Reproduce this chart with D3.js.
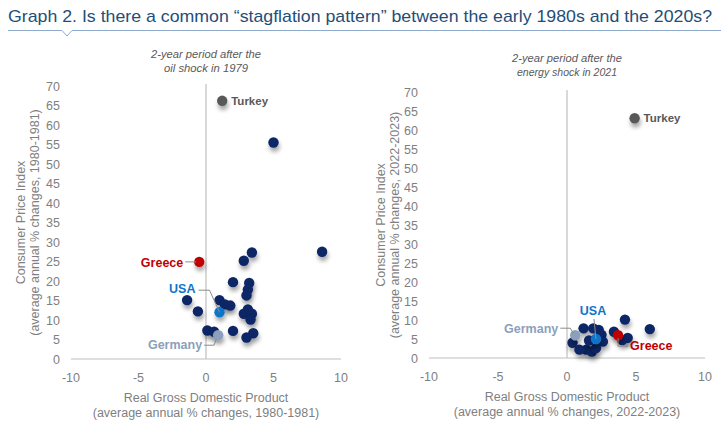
<!DOCTYPE html>
<html lang="en">
<head>
    <meta charset="UTF-8">
    <title>Stagflation pattern</title>

    <script src="https://d3js.org/d3.v7.min.js"></script>

    <style>
        body {
            margin: 0;
            background: #ffffff;
            font-family: "Liberation Sans", Arial, sans-serif;
        }
        svg text {
            font-family: "Liberation Sans", Arial, sans-serif;
        }
    </style>

    <script>

        // tick values shared by both panels
        const X_TICKS = [-10, -5, 0, 5, 10];
        const Y_TICKS = [0, 5, 10, 15, 20, 25, 30, 35, 40, 45, 50, 55, 60, 65, 70];

        // 1980-1981: other countries
        const GDP_1980 = [5.0, 8.6, 3.4, 2.8, 2.0, 3.2, 3.1, 3.0, -1.4, 1.0, 1.4, 1.8, -0.6, 3.1, 2.8, 3.4, 3.3, 0.1, 0.6, 2.0, 3.5, 3.0];
        const CPI_1980 = [55.5, 27.5, 27.3, 25.2, 19.7, 19.5, 17.8, 16.3, 15.1, 15.1, 14.0, 13.7, 12.2, 12.7, 11.6, 11.6, 10.1, 7.3, 7.0, 7.2, 6.6, 5.5];

        // 2022-2023: other countries
        const GDP_2022 = [4.2, 6.0, 1.2, 1.9, 2.3, 2.5, 0.4, 1.4, 1.8, 2.6, 2.1, 0.9, 3.4, 4.4, 4.0, 1.6];
        const CPI_2022 = [10.1, 7.6, 7.8, 7.8, 7.4, 6.1, 4.0, 2.2, 1.7, 4.3, 2.6, 2.2, 6.9, 5.3, 4.7, 4.6];

        // highlighted countries
        const COUNTRIES = ["Turkey", "Greece", "USA", "Germany"];
        const HL_GDP_1980 = [1.2, -0.5, 1.0, 0.9];
        const HL_CPI_1980 = [66.2, 24.9, 12.0, 6.1];
        const HL_GDP_2022 = [4.9, 3.7, 2.1, 0.6];
        const HL_CPI_2022 = [63.1, 6.0, 5.0, 6.0];

        const COLORS = {Turkey: "#595959", Greece: "#c00000", USA: "#0f75c9", Germany: "#8c9fbd"};
        const NAVY = "#0b2566";
        const AXIS_GREY = "#7f7f7f";

        document.addEventListener("DOMContentLoaded", () => makeGraph());

        function makeGraph() {
            const svg = d3.select("svg")
                .attr("width", 721)
                .attr("height", 447);

            const defs = svg.append("defs");
            defs.append("filter")
                .attr("id", "shadow")
                .attr("x", "-50%").attr("y", "-50%")
                .attr("width", "200%").attr("height", "220%")
                .append("feDropShadow")
                .attr("dx", 1)
                .attr("dy", 4)
                .attr("stdDeviation", 2)
                .attr("flood-color", "#000")
                .attr("flood-opacity", 0.35);

            // title
            svg.append("text")
                .attr("x", 8)
                .attr("y", 22)
                .attr("fill", "#1f4e79")
                .attr("font-size", 17)
                .attr("textLength", 704)
                .attr("lengthAdjust", "spacingAndGlyphs")
                .text("Graph 2. Is there a common \u201cstagflation pattern\u201d between the early 1980s and the 2020s?");

            svg.append("path")
                .attr("d", "M8,30.5 H62 L67,36 L72,30.5 H721")
                .attr("fill", "none")
                .attr("stroke", "#8eaacb")
                .attr("stroke-width", 1);

            drawPanel(svg, {
                xRange: [71, 341], yRange: [359, 86],
                gdp: GDP_1980, cpi: CPI_1980,
                hlGdp: HL_GDP_1980, hlCpi: HL_CPI_1980,
                note: ["2-year period after the", "oil shock in 1979"], noteY: 58,
                period: "1980-1981",
                yTitleX: 21,
                labels: {
                    Turkey: {dx: 9, dy: 4, anchor: "start", path: null},
                    Greece: {dx: -16, dy: 5, anchor: "end", path: [[-3, 0], [-14, 0]]},
                    USA: {dx: -24, dy: -19, anchor: "end", path: [[0, 0], [-10, -22], [-21, -22]]},
                    Germany: {dx: -16, dy: 14, anchor: "end", path: [[-2, 4], [-4, 10], [-14, 10]]}
                }
            });

            drawPanel(svg, {
                xRange: [429, 705], yRange: [358, 92],
                gdp: GDP_2022, cpi: CPI_2022,
                hlGdp: HL_GDP_2022, hlCpi: HL_CPI_2022,
                note: ["2-year period after the", "energy shock in 2021"], noteY: 62,
                period: "2022-2023",
                yTitleX: 381,
                labels: {
                    Turkey: {dx: 9, dy: 4, anchor: "start", path: null},
                    Greece: {dx: 12, dy: 15, anchor: "start", path: [[0, 3], [0, 11], [10, 11]]},
                    USA: {dx: -3, dy: -24, anchor: "middle", path: [[0, 0], [-2, -20]]},
                    Germany: {dx: -17, dy: -2, anchor: "end", path: [[-2, -2], [-5, -7], [-15, -7]]}
                }
            });
        }

        function drawPanel(svg, cfg) {
            const x = d3.scaleLinear().domain([-10, 10]).range(cfg.xRange);
            const y = d3.scaleLinear().domain([0, 70]).range(cfg.yRange);
            const g = svg.append("g");

            // y tick labels
            g.selectAll(".ytick")
                .data(Y_TICKS)
                .join("text")
                .attr("x", x(-10) - 11)
                .attr("y", d => y(d) + 4.5)
                .attr("text-anchor", "end")
                .attr("fill", AXIS_GREY)
                .attr("font-size", 12.5)
                .text(d => d);

            // x tick labels
            g.selectAll(".xtick")
                .data(X_TICKS)
                .join("text")
                .attr("x", d => x(d))
                .attr("y", y(0) + 23)
                .attr("text-anchor", "middle")
                .attr("fill", AXIS_GREY)
                .attr("font-size", 12.5)
                .text(d => d);

            // axis lines
            g.append("line")
                .attr("x1", x(-10)).attr("x2", x(10))
                .attr("y1", y(0)).attr("y2", y(0))
                .attr("stroke", "#bfbfbf").attr("stroke-width", 1.2);
            g.append("line")
                .attr("x1", x(0)).attr("x2", x(0))
                .attr("y1", y(70) - 2).attr("y2", y(0))
                .attr("stroke", "#bfbfbf").attr("stroke-width", 1.2);

            // axis titles
            const cx = x(0);
            g.append("text")
                .attr("x", cx).attr("y", y(0) + 43)
                .attr("text-anchor", "middle")
                .attr("fill", AXIS_GREY).attr("font-size", 12.5)
                .text("Real Gross Domestic Product");
            g.append("text")
                .attr("x", cx).attr("y", y(0) + 58)
                .attr("text-anchor", "middle")
                .attr("fill", AXIS_GREY).attr("font-size", 12.5)
                .text("(average annual % changes, " + cfg.period + ")");

            const cy = (y(0) + y(70)) / 2;
            g.append("text")
                .attr("transform", "translate(" + (cfg.yTitleX + 4) + "," + cy + ") rotate(-90)")
                .attr("text-anchor", "middle")
                .attr("fill", AXIS_GREY).attr("font-size", 12.5)
                .text("Consumer  Price Index");
            g.append("text")
                .attr("transform", "translate(" + (cfg.yTitleX + 18) + "," + cy + ") rotate(-90)")
                .attr("text-anchor", "middle")
                .attr("fill", AXIS_GREY).attr("font-size", 12.5)
                .text("(average annual % changes, " + cfg.period + ")");

            // italic note above the plot
            g.selectAll(".note")
                .data(cfg.note)
                .join("text")
                .attr("x", cx)
                .attr("y", (d, i) => cfg.noteY + i * 14)
                .attr("text-anchor", "middle")
                .attr("fill", "#595959")
                .attr("font-size", 11)
                .attr("font-style", "italic")
                .attr("textLength", (d, i) => i === 0 ? 110 : (d.length > 18 ? 100 : 84))
                .attr("lengthAdjust", "spacingAndGlyphs")
                .text(d => d);

            // other countries
            g.selectAll(".dot")
                .data(d3.range(cfg.gdp.length))
                .join("circle")
                .attr("cx", i => x(cfg.gdp[i]))
                .attr("cy", i => y(cfg.cpi[i]))
                .attr("r", 5.2)
                .attr("fill", NAVY)
                .attr("filter", "url(#shadow)");

            // highlighted countries, drawn on top
            COUNTRIES.forEach((name, i) => {
                const px = x(cfg.hlGdp[i]);
                const py = y(cfg.hlCpi[i]);
                const lab = cfg.labels[name];
                g.append("circle")
                    .attr("cx", px).attr("cy", py).attr("r", 5.2)
                    .attr("fill", COLORS[name])
                    .attr("filter", "url(#shadow)");
                if (lab.path) {
                    g.append("path")
                        .attr("d", d3.line()(lab.path.map(p => [px + p[0], py + p[1]])))
                        .attr("fill", "none")
                        .attr("stroke", "#8c8c8c")
                        .attr("stroke-width", 1);
                }
                g.append("text")
                    .attr("x", px + lab.dx)
                    .attr("y", py + lab.dy)
                    .attr("text-anchor", lab.anchor)
                    .attr("fill", COLORS[name])
                    .attr("font-size", name === "Turkey" ? 11.5 : 12.5)
                    .attr("font-weight", "bold")
                    .text(name);
            });
        }

    </script>

</head>
<body>
    <svg id="graph"></svg>
</body>
</html>
